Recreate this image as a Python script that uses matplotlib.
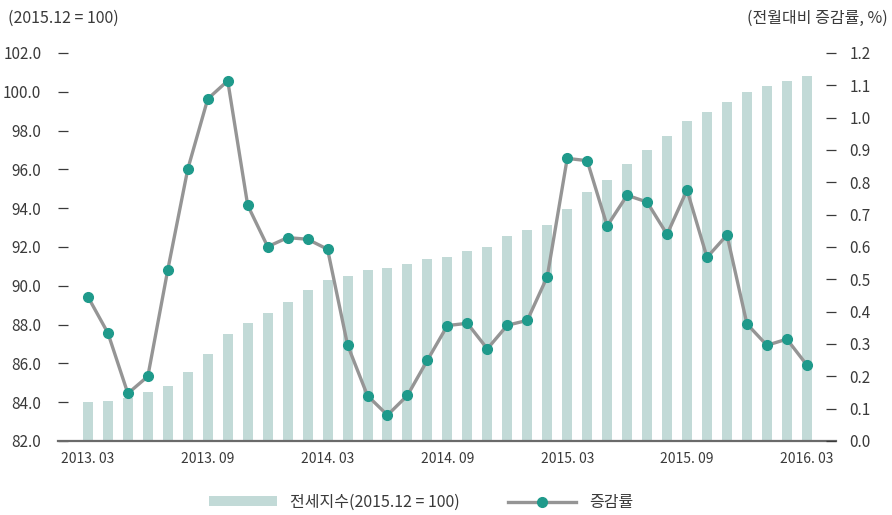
import numpy as np
import matplotlib
matplotlib.use('Agg')
import matplotlib.pyplot as plt

plt.rcParams['font.family'] = ['Noto Sans CJK KR', 'DejaVu Sans']

# monthly data, 2013.03 - 2016.03
months = ['2013. 03', '2013. 04', '2013. 05', '2013. 06', '2013. 07', '2013. 08',
          '2013. 09', '2013. 10', '2013. 11', '2013. 12', '2014. 01', '2014. 02',
          '2014. 03', '2014. 04', '2014. 05', '2014. 06', '2014. 07', '2014. 08',
          '2014. 09', '2014. 10', '2014. 11', '2014. 12', '2015. 01', '2015. 02',
          '2015. 03', '2015. 04', '2015. 05', '2015. 06', '2015. 07', '2015. 08',
          '2015. 09', '2015. 10', '2015. 11', '2015. 12', '2016. 01', '2016. 02',
          '2016. 03']
index_values = [84.0, 84.05, 84.2, 84.5, 84.85, 85.55, 86.5, 87.5, 88.1, 88.6,
                89.15, 89.77, 90.3, 90.5, 90.8, 90.9, 91.1, 91.4, 91.5, 91.8,
                92.0, 92.55, 92.88, 93.13, 93.96, 94.82, 95.47, 96.28, 96.98,
                97.72, 98.49, 98.97, 99.47, 100.0, 100.3, 100.56, 100.82]
change_rate = [0.446, 0.334, 0.147, 0.20, 0.53, 0.841, 1.058, 1.114, 0.729, 0.601,
               0.629, 0.624, 0.593, 0.297, 0.14, 0.08, 0.141, 0.25, 0.357, 0.364,
               0.285, 0.358, 0.373, 0.508, 0.874, 0.867, 0.665, 0.76, 0.739, 0.639,
               0.776, 0.568, 0.637, 0.362, 0.296, 0.315, 0.235]

text_color = '#3a3a3a'
bar_color = '#c2dad7'
line_color = '#959595'
marker_color = '#1f9a8b'

x = np.arange(len(months))

fig = plt.figure(figsize=(8.92, 5.15), dpi=100)
ax = fig.add_axes([0.065, 0.1437, 0.872, 0.7534])
ax2 = ax.twinx()

bars = ax.bar(x, index_values, width=0.5, color=bar_color, label='전세지수(2015.12 = 100)')
line, = ax2.plot(x, change_rate, color=line_color, linewidth=2.4, marker='o',
                 markersize=7, markerfacecolor=marker_color, markeredgecolor=marker_color,
                 label='증감률')

ax.set_xlim(-1.5, 37.45)
ax.set_ylim(82, 102)
ax2.set_ylim(0, 1.2)

ax.set_yticks(np.arange(82, 102.1, 2))
ax.set_yticklabels([f'{v:.1f}' for v in np.arange(82, 102.1, 2)])
ax2.set_yticks(np.arange(0, 1.21, 0.1))
ax2.set_yticklabels([f'{v:.1f}' for v in np.arange(0, 1.21, 0.1)])

ax.set_xticks(x[::6])
ax.set_xticklabels(months[::6])

for a in (ax, ax2):
    for s in ('top', 'left', 'right', 'bottom'):
        a.spines[s].set_visible(False)
ax.spines['bottom'].set_visible(True)
ax.spines['bottom'].set_color('#6a6a6a')
ax.spines['bottom'].set_linewidth(1.6)

ax.tick_params(axis='y', direction='in', length=7, width=0.9, color=text_color,
               pad=12, labelsize=11, labelcolor=text_color)
ax2.tick_params(axis='y', direction='in', length=7, width=0.9, color=text_color,
                pad=10, labelsize=11, labelcolor=text_color)
ax.tick_params(axis='x', length=0, pad=8, labelsize=10, labelcolor=text_color)

fig.text(0.009, 0.965, '(2015.12 = 100)', fontsize=11.5, color=text_color, va='center', ha='left')
fig.text(0.995, 0.965, '(전월대비 증감률, %)', fontsize=11.5, color=text_color, va='center', ha='right')

fig.legend(handles=[bars, line], loc='center', bbox_to_anchor=(0.472, 0.025), ncol=2,
           frameon=False, fontsize=11.5, handlelength=4.3, handleheight=0.5,
           columnspacing=3, numpoints=1, labelcolor=text_color)

fig.savefig('out.png', dpi=100)
